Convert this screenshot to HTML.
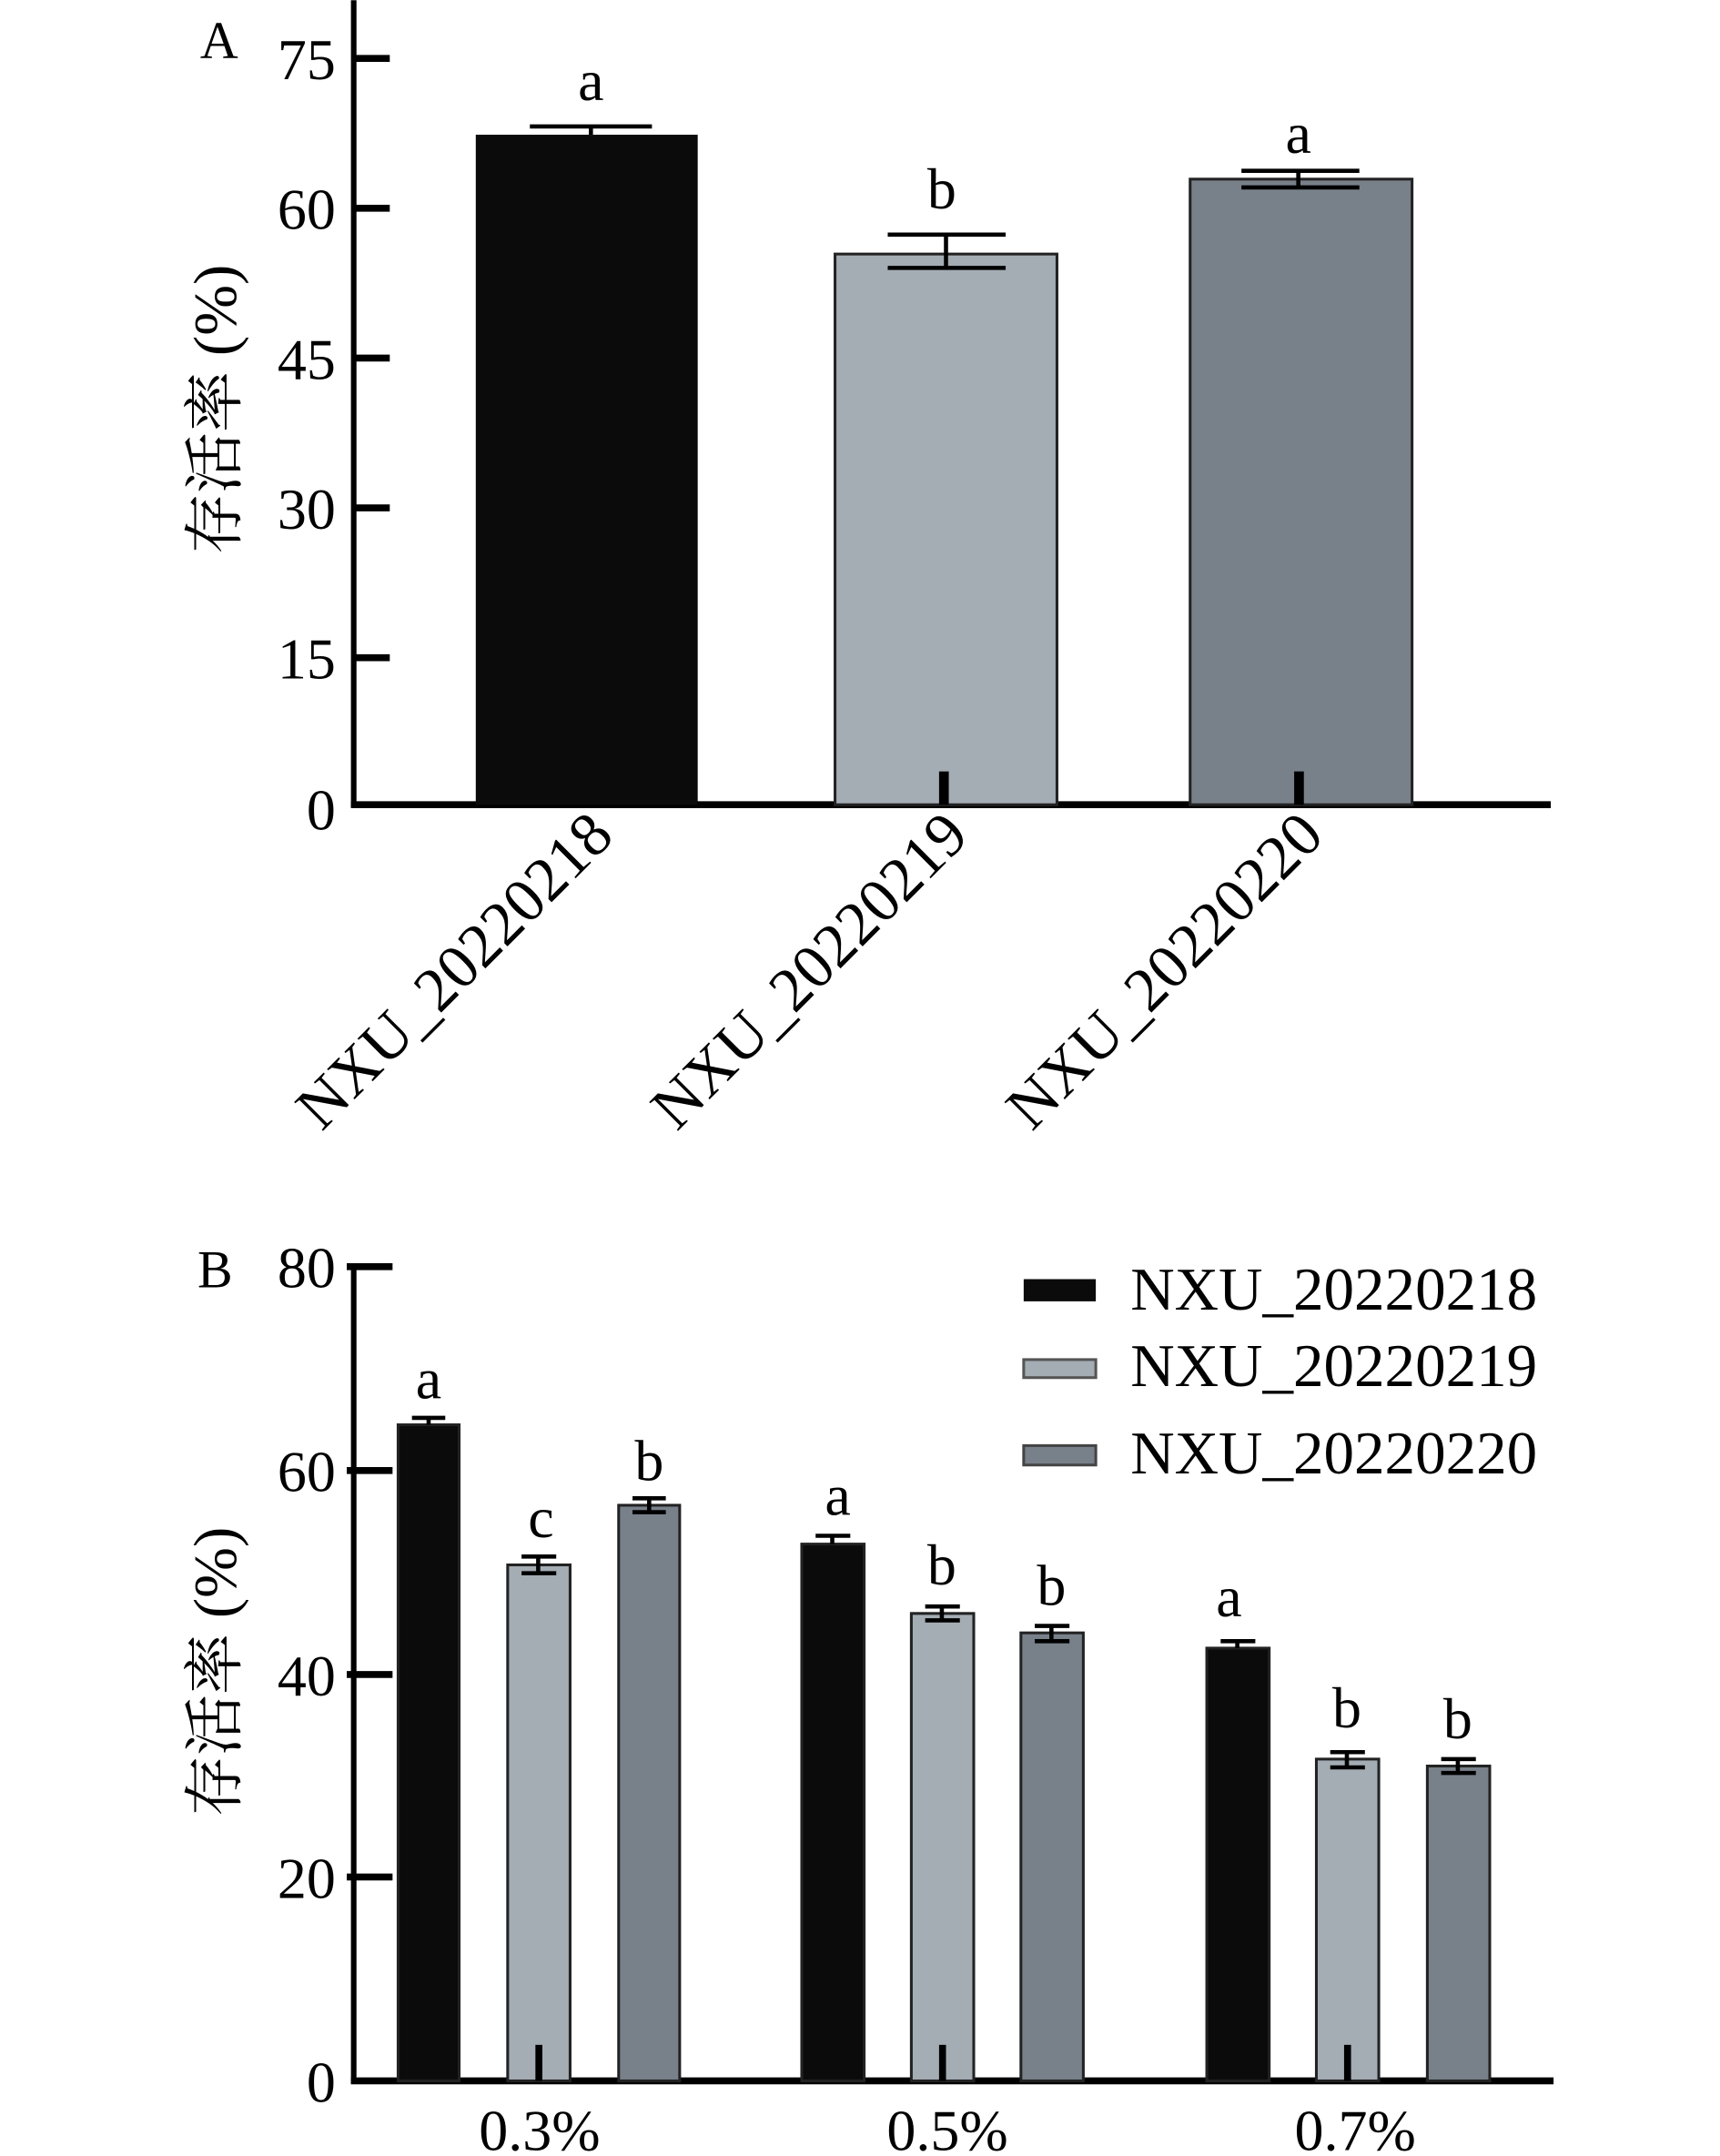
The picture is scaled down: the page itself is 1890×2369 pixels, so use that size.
<!DOCTYPE html>
<html><head><meta charset="utf-8"><style>html,body{margin:0;padding:0;background:#fff}svg{display:block}</style></head>
<body>
<svg width="1890" height="2369" viewBox="0 0 1240 1554" xmlns="http://www.w3.org/2000/svg" font-family="Liberation Serif, Noto Serif CJK SC, serif">
<!-- Panel A -->
<g>
<text x="158" y="42" font-size="38" text-anchor="middle">A</text>
<line x1="255" y1="0" x2="255" y2="582" stroke="#000" stroke-width="4"/>
<line x1="253" y1="580" x2="1118" y2="580" stroke="#000" stroke-width="5"/>
<g stroke="#000" stroke-width="5">
<line x1="255" y1="42" x2="281" y2="42"/><line x1="255" y1="150" x2="281" y2="150"/>
<line x1="255" y1="258" x2="281" y2="258"/><line x1="255" y1="366" x2="281" y2="366"/>
<line x1="255" y1="474" x2="281" y2="474"/>
</g>
<g font-size="42" text-anchor="end">
<text x="242" y="57">75</text><text x="242" y="165">60</text><text x="242" y="273">45</text>
<text x="242" y="381">30</text><text x="242" y="489">15</text><text x="242" y="598">0</text>
</g>
<text transform="translate(170,295) rotate(-90)" font-size="44" text-anchor="middle">存活率 (%)</text>
<rect x="343" y="97" width="160" height="483" fill="#0b0b0b"/>
<rect x="602" y="183" width="160" height="397" fill="#a4adb4" stroke="#222" stroke-width="2"/>
<rect x="858" y="129" width="160" height="451" fill="#78808a" stroke="#222" stroke-width="2"/>
<g stroke="#000" stroke-width="3">
<line x1="426" y1="91" x2="426" y2="97"/><line x1="382" y1="91" x2="470" y2="91"/>
<line x1="682" y1="169" x2="682" y2="193"/><line x1="640" y1="169" x2="725" y2="169"/><line x1="640" y1="193" x2="725" y2="193"/>
<line x1="936" y1="123" x2="936" y2="135"/><line x1="895" y1="123" x2="980" y2="123"/><line x1="895" y1="135" x2="980" y2="135"/>
</g>
<rect x="677" y="556" width="7" height="24" fill="#000"/>
<rect x="933" y="556" width="7" height="24" fill="#000"/>
<g font-size="42" text-anchor="middle">
<text x="426" y="72">a</text><text x="679" y="150">b</text><text x="936" y="110">a</text>
</g>
<g font-size="45" text-anchor="end">
<text transform="translate(444,604) rotate(-45)">NXU_20220218</text>
<text transform="translate(700,604) rotate(-45)">NXU_20220219</text>
<text transform="translate(956,604) rotate(-45)">NXU_20220220</text>
</g>
</g>
<!-- Panel B -->
<g>
<text x="155" y="928" font-size="38" text-anchor="middle">B</text>
<line x1="255" y1="911" x2="255" y2="1502" stroke="#000" stroke-width="4"/>
<line x1="253" y1="1500" x2="1120" y2="1500" stroke="#000" stroke-width="5"/>
<g stroke="#000" stroke-width="5">
<line x1="250" y1="913" x2="283" y2="913"/><line x1="250" y1="1060" x2="283" y2="1060"/>
<line x1="250" y1="1207" x2="283" y2="1207"/><line x1="250" y1="1353" x2="283" y2="1353"/>
</g>
<g font-size="42" text-anchor="end">
<text x="242" y="928">80</text><text x="242" y="1075">60</text><text x="242" y="1222">40</text>
<text x="242" y="1368">20</text><text x="242" y="1515">0</text>
</g>
<text transform="translate(170,1205) rotate(-90)" font-size="44" text-anchor="middle">存活率 (%)</text>
<g stroke="#222" stroke-width="2">
<rect x="287" y="1027" width="44" height="473" fill="#0b0b0b"/>
<rect x="366" y="1128" width="45" height="372" fill="#a4adb4"/>
<rect x="446" y="1085" width="44" height="415" fill="#78808a"/>
<rect x="578" y="1113" width="45" height="387" fill="#0b0b0b"/>
<rect x="657" y="1163" width="45" height="337" fill="#a4adb4"/>
<rect x="736" y="1177" width="45" height="323" fill="#78808a"/>
<rect x="870" y="1188" width="45" height="312" fill="#0b0b0b"/>
<rect x="949" y="1268" width="45" height="232" fill="#a4adb4"/>
<rect x="1029" y="1273" width="45" height="227" fill="#78808a"/>
</g>
<g stroke="#000" stroke-width="3">
<line x1="297" y1="1022" x2="321" y2="1022"/><line x1="309" y1="1022" x2="309" y2="1027"/>
<line x1="376" y1="1122" x2="401" y2="1122"/><line x1="376" y1="1134" x2="401" y2="1134"/><line x1="388" y1="1122" x2="388" y2="1134"/>
<line x1="456" y1="1080" x2="480" y2="1080"/><line x1="456" y1="1090" x2="480" y2="1090"/><line x1="468" y1="1080" x2="468" y2="1090"/>
<line x1="588" y1="1107" x2="613" y2="1107"/><line x1="600" y1="1107" x2="600" y2="1113"/>
<line x1="667" y1="1158" x2="692" y2="1158"/><line x1="667" y1="1168" x2="692" y2="1168"/><line x1="679" y1="1158" x2="679" y2="1168"/>
<line x1="746" y1="1172" x2="771" y2="1172"/><line x1="746" y1="1183" x2="771" y2="1183"/><line x1="758" y1="1172" x2="758" y2="1183"/>
<line x1="880" y1="1183" x2="905" y2="1183"/><line x1="892" y1="1183" x2="892" y2="1188"/>
<line x1="959" y1="1263" x2="984" y2="1263"/><line x1="959" y1="1274" x2="984" y2="1274"/><line x1="971" y1="1263" x2="971" y2="1274"/>
<line x1="1039" y1="1268" x2="1064" y2="1268"/><line x1="1039" y1="1278" x2="1064" y2="1278"/><line x1="1051" y1="1268" x2="1051" y2="1278"/>
</g>
<rect x="386" y="1474" width="5" height="26" fill="#000"/>
<rect x="677" y="1474" width="5" height="26" fill="#000"/>
<rect x="969" y="1474" width="5" height="26" fill="#000"/>
<g font-size="42" text-anchor="middle">
<text x="309" y="1008">a</text><text x="390" y="1108">c</text><text x="468" y="1067">b</text>
<text x="604" y="1092">a</text><text x="679" y="1142">b</text><text x="758" y="1157">b</text>
<text x="886" y="1165">a</text><text x="971" y="1245">b</text><text x="1051" y="1253">b</text>
</g>
<g font-size="42" text-anchor="middle">
<text x="389" y="1550">0.3%</text><text x="683" y="1550">0.5%</text><text x="977" y="1550">0.7%</text>
</g>
<rect x="738" y="922" width="52" height="16" fill="#0b0b0b"/>
<rect x="738" y="980" width="52" height="13" fill="#a4adb4" stroke="#555" stroke-width="2"/>
<rect x="738" y="1042" width="52" height="14" fill="#78808a" stroke="#444" stroke-width="2"/>
<g font-size="44">
<text x="815" y="944">NXU_20220218</text>
<text x="815" y="999">NXU_20220219</text>
<text x="815" y="1062">NXU_20220220</text>
</g>
</g>
</svg>
</body></html>
